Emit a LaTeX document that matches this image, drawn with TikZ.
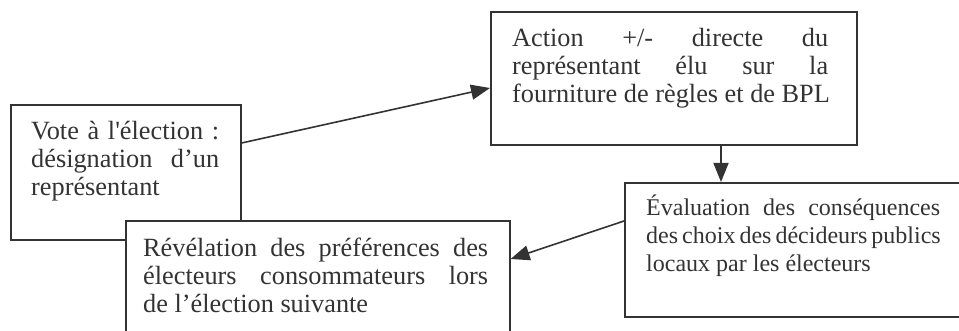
\documentclass[tikz,border=0pt]{standalone}
\usepackage{fontspec}
\setmainfont{Liberation Serif}
\usetikzlibrary{arrows.meta,calc}
\definecolor{ink}{HTML}{333333}
\begin{document}
\begin{tikzpicture}[x=1pt,y=-1pt,
  box/.style={draw=ink, line width=1.6pt, fill=white, inner sep=0pt, anchor=north west},
  txt/.style={inner sep=0pt, anchor=north west, align=left, text=ink, font=\fontsize{26.3}{28}\selectfont},
  txtsmall/.style={txt, font=\fontsize{24}{28}\selectfont},
  arr/.style={draw=ink, line width=1.6pt, -{Triangle[length=19pt,width=15pt]}}]
\useasboundingbox (0,0) rectangle (959,331);
\clip (0,0) rectangle (959,331);
% Box A
\node[box, minimum width=230pt, minimum height=135pt] (A) at (10,104) {};
\node[txt] (tA) at (31,115) {\rule{0pt}{24pt}\makebox[188pt][s]{Vote à l\textquotesingle élection :}\\ \makebox[188pt][s]{désignation d’un}\\ représentant};
% Box B
\node[box, minimum width=366pt, minimum height=133pt] (B) at (490,11) {};
\node[txt] (tB) at (512,22) {\rule{0pt}{24pt}\makebox[316pt][s]{Action +/- directe du}\\ \makebox[316pt][s]{représentant élu sur la}\\ fourniture de règles et de BPL};
% Box C
\node[box, minimum width=345pt, minimum height=134pt] (C) at (624,182) {};
\node[txtsmall] (tC) at (646,191) {\rule{0pt}{24pt}\makebox[294pt][s]{Évaluation des conséquences}\\ \makebox[294pt][s]{des choix des décideurs publics}\\ locaux par les électeurs};
% Box D
\node[box, minimum width=384pt, minimum height=125pt] (D) at (125,220) {};
\node[txt] (tD) at (143,232) {\rule{0pt}{24pt}\makebox[345pt][s]{Révélation des préférences des}\\ \makebox[345pt][s]{électeurs consommateurs lors}\\ de l’élection suivante};
% Arrows
\draw[arr] ([yshift=-39pt]A.north east) -- ([yshift=-77pt]B.north west);
\draw[arr] ([xshift=231pt]B.south west) -- ([xshift=97pt]C.north west);
\draw[arr] ([yshift=-39pt]C.north west) -- ([yshift=-39pt]D.north east);
\end{tikzpicture}
\end{document}
